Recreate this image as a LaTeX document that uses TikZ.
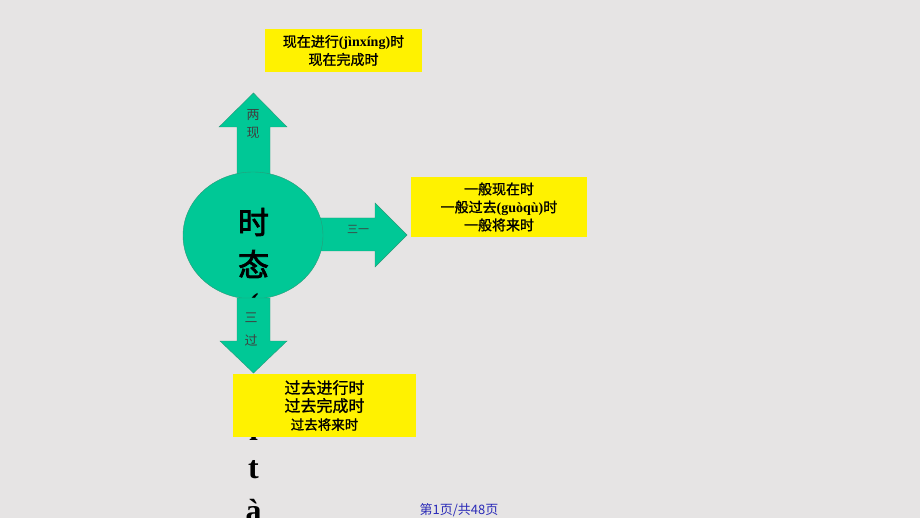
\documentclass[tikz,border=0pt]{standalone}
\usepackage{fontspec}
\setmainfont{Liberation Serif}
\newfontfamily\cjk{Noto Sans CJK SC}
\newfontfamily\cjkb[FakeBold=1.2]{Noto Sans CJK SC}
\newfontfamily\cjkbb[FakeBold=2.5]{Noto Sans CJK SC}
\usetikzlibrary{shapes.geometric}
\definecolor{slidegray}{HTML}{E6E4E4}
\definecolor{tealfill}{HTML}{00C896}
\definecolor{tealedge}{HTML}{2A9A78}
\definecolor{pagenum}{HTML}{2B2BB8}
\newcommand\py[1]{{\rmfamily\bfseries #1}}

\begin{document}
\begin{tikzpicture}[x=1pt,y=-1pt,
    ybox/.style={fill=yellow, inner sep=0pt, align=center, font=\cjkb\fontsize{14}{18}\selectfont},
    tarrow/.style={fill=tealfill, draw=tealedge, line width=0.4pt},
    albl/.style={text=black!75, inner sep=0pt, font=\cjk\fontsize{13}{13}\selectfont},
    vchar/.style={inner sep=0pt, font=\fontsize{32}{32}\selectfont\bfseries}]
        % Background
        \fill[slidegray] (0,0) rectangle (920,518);
        \useasboundingbox (0,0) rectangle (920,518);
        % Up and right arrows
        \draw[tarrow] (237,178) -- (237,127) -- (219,127) -- (253.5,93) -- (287,127)
            -- (270,127) -- (270,178) -- cycle;
        \draw[tarrow] (318,218) -- (375,218) -- (375,203) -- (407,235) -- (375,267)
            -- (375,251) -- (318,251) -- cycle;
        % Circle
        \node[ellipse, fill=tealfill, draw=tealedge, line width=0.4pt, inner sep=0pt,
            minimum width=140, minimum height=127] (tense) at (253,235.5) {};
        % Vertical title
        \node[vchar, font=\cjkbb\fontsize{31}{31}\selectfont] (v0) at (253.5,222) {时};
        \node[vchar, font=\cjkbb\fontsize{31}{31}\selectfont] (v1) at (253.5,264) {态};
        \node[vchar] (v2) at (253.5,308) {(};
        \foreach \c [count=\i from 3] in {s,h,í,t,à}
            \node[vchar] (v\i) at (253.5,{224+41*\i}) {\c};
        % Down arrow
        \draw[tarrow] (237,298) -- (237,341) -- (220,341) -- (253.5,373) -- (287,341)
            -- (270,341) -- (270,298) -- cycle;
        % Arrow labels
        \node[albl] (up1) at (253,115) {两};
        \node[albl] (up2) at (253,133) {现};
        \node[albl, font=\cjk\fontsize{11}{11}\selectfont] (right1) at (358,229) {三一};
        \node[albl] (down1) at (251,318) {三};
        \node[albl] (down2) at (251,340) {过};
        % Boxes
        \node[ybox, minimum width=157, minimum height=43] (present) at (343.5,50.5)
            {现在进行\py{(jìnxíng)}时\\现在完成时};
        \node[ybox, minimum width=176, minimum height=60] (simple) at (499,207)
            {一般现在时\\一般过去\py{(guòqù)}时\\一般将来时};
        \node[ybox, minimum width=183, minimum height=63] (past) at (324.5,405.5)
            {\fontsize{16}{20}\selectfont 过去进行时\\
             \fontsize{16}{19}\selectfont 过去完成时\\
             \fontsize{13.5}{17}\selectfont 过去将来时};
        % Page number
        \node[text=pagenum, inner sep=0pt, font=\cjk\fontsize{13}{13}\selectfont] (page) at (459,510)
            {第1页/共48页};
\end{tikzpicture}
\end{document}
